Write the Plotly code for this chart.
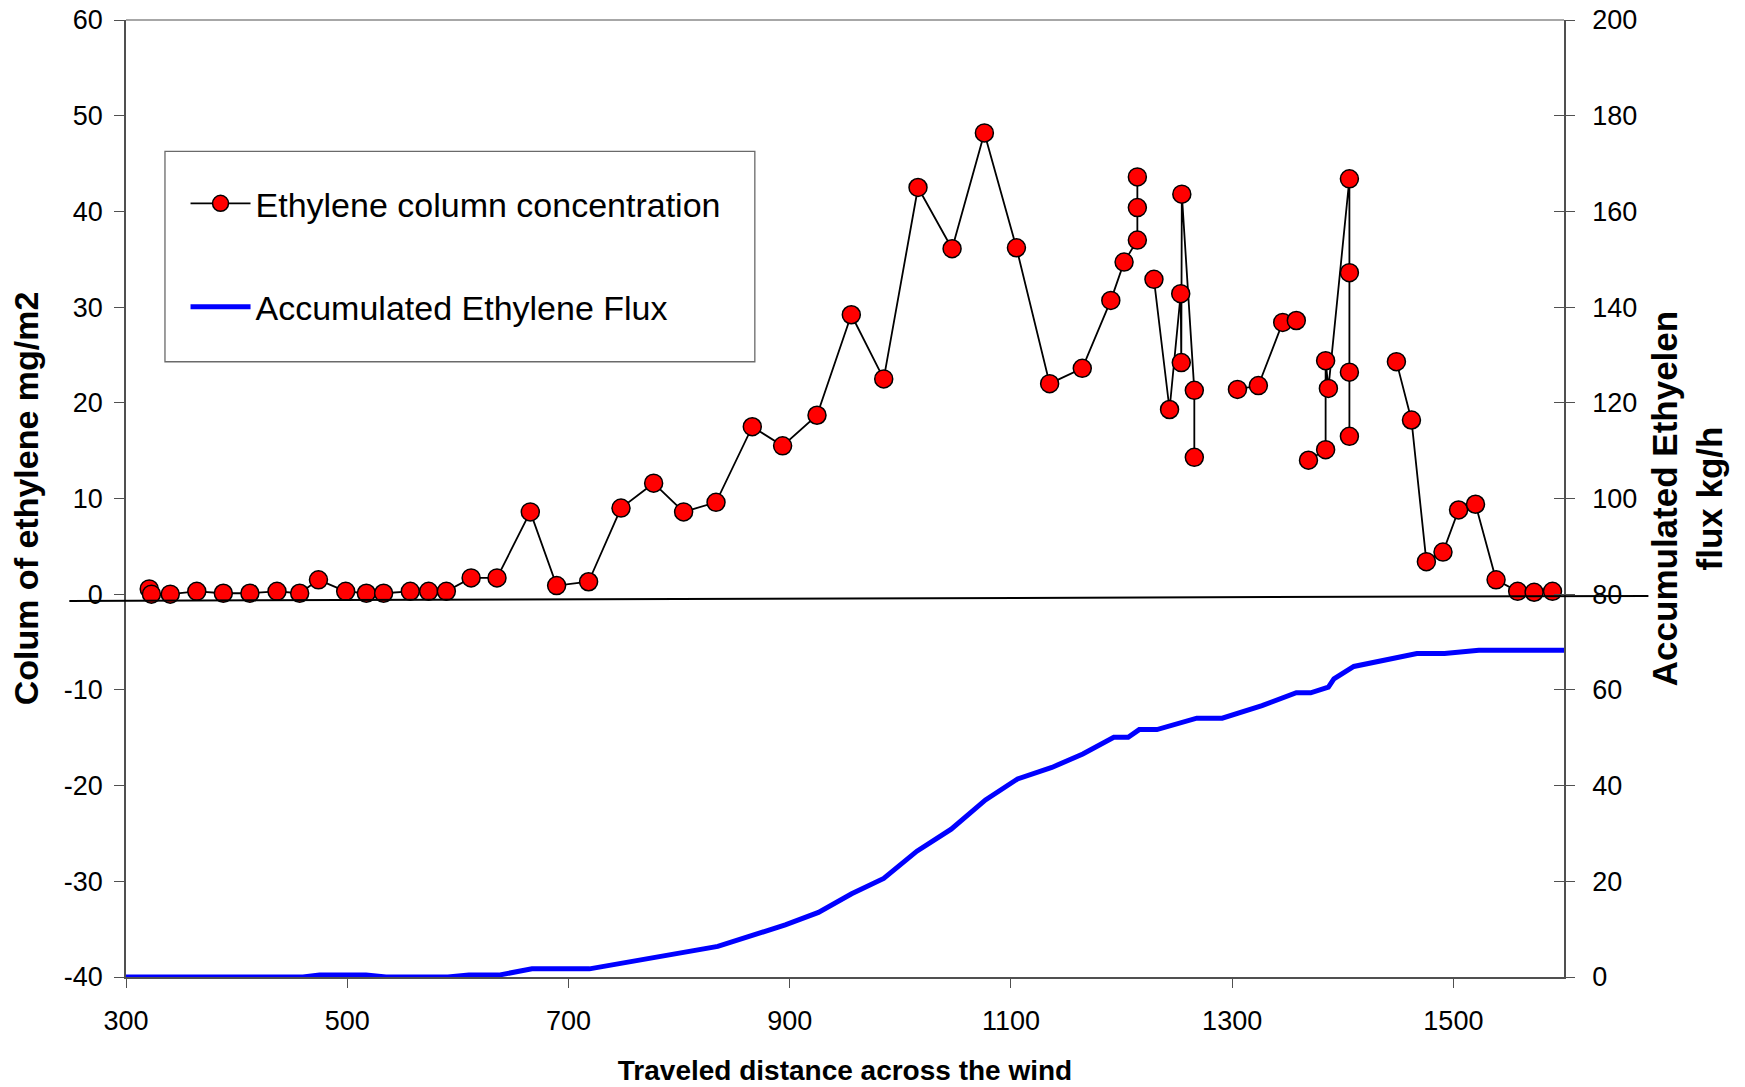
import plotly.graph_objects as go

# ---------------- data ----------------
# Ethylene column concentration (left axis, mg/m2); None = gap in the line
dist_conc = [321, 323, 340, 364, 388, 412, 436.5, 457, 474, 498.6, 517.3, 532.9, 557, 573.6,
             589.6, 612, 635.4, 665.5, 689.3, 718.2, 747.5, 777, 804.1, 833.4, 866.2, 893.6,
             924.7, 955.7, 985, 1016, 1046.8, 1076, 1105, 1135, 1164.5, 1190.3, 1202.3,
             1214.3, 1214.3, 1214.3, None, 1229.3, 1243.4, 1253.5, 1254, 1254.5, 1265.8,
             1265.8, None, 1304.8, 1323.7, 1345.7, 1358, None, 1369, 1384.5, 1384.5, 1387,
             1406, 1406, 1406, 1406, None, 1448.5, 1462.1, 1475.6, 1490.6, 1504.7, 1520,
             1538.6, 1558.1, 1573, 1589.6]
conc = [0.55, 0.0, 0.0, 0.3, 0.1, 0.1, 0.3, 0.1, 1.5, 0.3, 0.1, 0.1, 0.3, 0.3,
        0.3, 1.7, 1.7, 8.6, 0.9, 1.3, 9.0, 11.6, 8.6, 9.6, 17.5, 15.5,
        18.7, 29.2, 22.5, 42.5, 36.1, 48.2, 36.2, 22.0, 23.6, 30.7, 34.7,
        37.0, 40.4, 43.6, None, 32.9, 19.3, 31.4, 24.2, 41.8, 21.3,
        14.3, None, 21.4, 21.8, 28.4, 28.6, None, 14.0, 15.1, 24.4, 21.5,
        43.4, 33.6, 23.2, 16.5, None, 24.3, 18.2, 3.4, 4.4, 8.8, 9.4,
        1.5, 0.3, 0.2, 0.3]

# Accumulated ethylene flux (right axis, kg/h)
dist_flux = [300, 460, 475, 517, 535, 591, 610, 637, 667, 719, 835, 896, 926, 956, 985,
             1015, 1046, 1077, 1106, 1137, 1165, 1193, 1206, 1216, 1232, 1268, 1291, 1327,
             1358, 1371, 1387, 1392, 1410, 1433, 1454, 1467, 1492, 1523, 1600]
flux = [0, 0, 0.4, 0.4, 0, 0, 0.4, 0.4, 1.7, 1.7, 6.4, 10.9, 13.5, 17.4, 20.6,
        26.3, 30.9, 37.0, 41.4, 43.8, 46.6, 50.1, 50.1, 51.7, 51.7, 54.1, 54.1, 56.7,
        59.4, 59.4, 60.6, 62.3, 64.9, 66.0, 67.2, 67.6, 67.6, 68.3, 68.3]

x_ticks = [300, 500, 700, 900, 1100, 1300, 1500]
left_ticks = [-40, -30, -20, -10, 0, 10, 20, 30, 40, 50, 60]
right_ticks = [0, 20, 40, 60, 80, 100, 120, 140, 160, 180, 200]

FONT = "Arial, 'Liberation Sans', sans-serif"
AX = "#505050"

fig = go.Figure()

fig.add_trace(go.Scatter(
    x=dist_flux, y=flux, yaxis="y2", mode="lines",
    name="Accumulated Ethylene Flux",
    line=dict(color="#0000FF", width=5),
    legend="legend2",
))

fig.add_trace(go.Scatter(
    x=dist_conc, y=conc, mode="lines+markers",
    name="Ethylene column concentration",
    line=dict(color="black", width=1.8),
    marker=dict(color="#FF0000", size=18, line=dict(color="black", width=1.5)),
    connectgaps=False,
    legend="legend",
))

# helper axis for the inner half of the right-hand cross ticks
fig.add_trace(go.Scatter(x=[None], y=[None], yaxis="y3", showlegend=False, hoverinfo="skip"))

fig.update_layout(
    width=1745, height=1087, autosize=False,
    margin=dict(l=126, r=181, t=20, b=110, autoexpand=False),
    paper_bgcolor="white", plot_bgcolor="white",
    font=dict(family=FONT, color="black", size=27),
    xaxis=dict(
        range=[300, 1600], tickvals=x_ticks, ticktext=[str(v) for v in x_ticks],
        ticks="outside", ticklen=9, tickcolor=AX, automargin=False,
        showline=True, linecolor=AX, linewidth=1.5, showgrid=False, zeroline=False,
        tickfont=dict(size=27), ticklabelstandoff=10, ticklabeloverflow="allow",
        title=dict(text="<b>Traveled distance across the wind</b>", font=dict(size=28), standoff=25),
    ),
    yaxis=dict(
        range=[-40, 60], tickvals=left_ticks, ticktext=[str(v) for v in left_ticks],
        ticks="outside", ticklen=10, tickcolor=AX, automargin=False,
        showline=True, linecolor=AX, linewidth=1.5, showgrid=False, zeroline=False,
        tickfont=dict(size=27), ticklabelstandoff=6, ticklabeloverflow="allow",
        title=dict(text="<b>Colum of ethylene mg/m2</b>", font=dict(size=34), standoff=14.5),
    ),
    yaxis2=dict(
        range=[0, 200], tickvals=right_ticks, ticktext=[str(v) for v in right_ticks],
        overlaying="y", side="right", anchor="x", automargin=False,
        ticks="outside", ticklen=9, tickcolor=AX,
        showline=True, linecolor=AX, linewidth=1.5, showgrid=False, zeroline=False,
        tickfont=dict(size=27), ticklabelstandoff=12, ticklabeloverflow="allow",
        title=dict(text="<b>Accumulated Ethyelen<br>flux kg/h</b>", font=dict(size=35), standoff=16),
    ),
    yaxis3=dict(
        range=[0, 200], tickvals=right_ticks, overlaying="y", side="right", anchor="x",
        ticks="inside", ticklen=10, tickcolor=AX, showticklabels=False, automargin=False,
        showline=False, showgrid=False, zeroline=False,
    ),
    legend=dict(
        x=0.0414, y=0.808, xanchor="left", yanchor="middle",
        bgcolor="rgba(0,0,0,0)", borderwidth=0, itemwidth=60,
        font=dict(size=34, family=FONT),
    ),
    legend2=dict(
        x=0.0414, y=0.700, xanchor="left", yanchor="middle",
        bgcolor="rgba(0,0,0,0)", borderwidth=0, itemwidth=60,
        font=dict(size=34, family=FONT),
    ),
    shapes=[
        # legend frame
        dict(type="rect", xref="paper", yref="paper", x0=0.0271, x1=0.4373, y0=0.6429, y1=0.8627,
             line=dict(color="#6a6a6a", width=1.3), fillcolor="rgba(0,0,0,0)", layer="below"),
        # top border of the plot area
        dict(type="line", xref="paper", yref="paper", x0=0, x1=1, y0=1, y1=1,
             line=dict(color="#8a8a8a", width=1.5)),
        # drawn near-zero baseline
        dict(type="line", xref="paper", yref="paper", x0=-0.0394, x1=1.0587, y0=0.3930, y1=0.3982,
             line=dict(color="black", width=2)),
    ],
)

# remove the default page margin so the figure sits at the window's top-left corner
fig.write_html("out.html", config={"displayModeBar": False},
               post_script="document.body.style.margin='0';")
